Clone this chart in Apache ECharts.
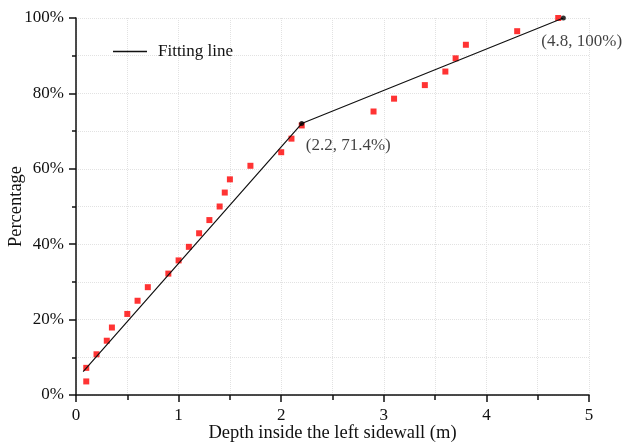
<!DOCTYPE html>
<html><head><meta charset="utf-8">
<script src="https://cdn.jsdelivr.net/npm/echarts@6/dist/echarts.min.js"></script>
<style>html,body{margin:0;padding:0;background:#fff}#c{width:622px;height:448px}</style>
</head><body><div id="c"></div>
<script>
const depth = [0.1,0.1,0.2,0.3,0.35,0.5,0.6,0.7,0.9,1.0,1.1,1.2,1.3,1.4,1.45,1.5,1.7,2.0,2.1,2.2,2.9,3.1,3.4,3.6,3.7,3.8,4.3,4.7];
const percent = [7.2,3.6,10.8,14.4,17.9,21.5,25.0,28.6,32.2,35.7,39.3,42.9,46.4,50.0,53.7,57.2,60.8,64.4,68.0,71.5,75.2,78.6,82.2,85.8,89.3,92.9,96.5,100];
const fitX = [0.07,2.2,4.75];
const fitY = [6.2,72.0,100];
const keyX = [2.2,4.75];
const keyY = [72.0,100];
const keyLabels = ['(2.2, 71.4%)','(4.8, 100%)'];
const xTicks = [0,1,2,3,4,5];
const yTicks = [0,20,40,60,80,100];

const font = 'Liberation Serif';
const labelOffsets = [[4,6],[-22,8]];
const chart = echarts.init(document.getElementById('c'));
chart.setOption({
  animation:false,
  textStyle:{fontFamily:font},
  grid:{left:76,right:33,top:18,bottom:53,outerBoundsMode:'none',containLabel:false},
  legend:{
    data:['Fitting line'], left:108, top:38, icon:'rect', itemWidth:34, itemHeight:1.3, itemGap:10,
    textStyle:{fontFamily:font,fontSize:17,color:'#111',padding:[0,0,0,6]}
  },
  xAxis:{
    type:'value', min:0, max:5, interval:1,
    name:'Depth inside the left sidewall (m)', nameLocation:'middle', nameGap:29, nameMoveOverlap:false,
    nameTextStyle:{fontFamily:font,fontSize:18.5,color:'#111'},
    axisLine:{lineStyle:{color:'#111',width:1.5}},
    axisTick:{show:true,length:7,lineStyle:{color:'#111',width:1.5}},
    minorTick:{show:true,splitNumber:2,length:5,lineStyle:{color:'#111',width:1.5}},
    axisLabel:{fontFamily:font,fontSize:17,color:'#111',margin:12,
      formatter:v=>xTicks.includes(v)?String(v):''},
    splitLine:{show:true,lineStyle:{color:'#e2e2e2',type:'dotted',width:1}},
    minorSplitLine:{show:true,lineStyle:{color:'#e2e2e2',type:'dotted',width:1}}
  },
  yAxis:{
    type:'value', min:0, max:100, interval:20,
    name:'Percentage', nameLocation:'middle', nameGap:50, nameMoveOverlap:false,
    nameTextStyle:{fontFamily:font,fontSize:18.5,color:'#111'},
    axisLine:{show:true,lineStyle:{color:'#111',width:1.5}},
    axisTick:{show:true,length:7,lineStyle:{color:'#111',width:1.5}},
    minorTick:{show:true,splitNumber:2,length:4,lineStyle:{color:'#111',width:1.5}},
    axisLabel:{fontFamily:font,fontSize:17,color:'#111',margin:12,
      formatter:v=>yTicks.includes(v)?v+'%':''},
    splitLine:{show:true,lineStyle:{color:'#e2e2e2',type:'dotted',width:1}},
    minorSplitLine:{show:true,lineStyle:{color:'#e2e2e2',type:'dotted',width:1}}
  },
  series:[
    {
      name:'Fitting line', type:'line', symbol:'none',
      data:fitX.map((x,i)=>[x,fitY[i]]),
      lineStyle:{color:'#111',width:1.2}, itemStyle:{color:'#111'}, z:3
    },
    {
      name:'Measured', type:'scatter', symbol:'rect', symbolSize:6,
      data:depth.map((x,i)=>[x,percent[i]]),
      itemStyle:{color:'#ff0000'}, z:2
    },
    {
      name:'Key', type:'scatter', symbol:'circle', symbolSize:5,
      data:keyX.map((x,i)=>({value:[x,keyY[i]],label:{formatter:keyLabels[i],offset:labelOffsets[i]}})),
      itemStyle:{color:'#000'}, z:4,
      label:{show:true,position:'bottom',align:'left',
        fontFamily:font,fontSize:17,color:'#111'}
    }
  ]
});
</script></body></html>
